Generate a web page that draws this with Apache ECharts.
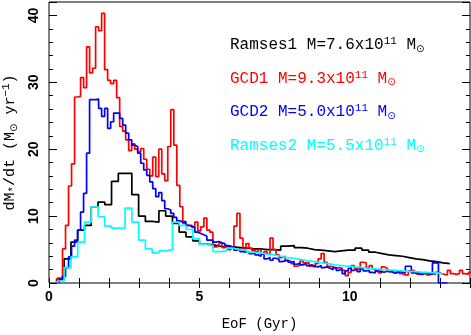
<!DOCTYPE html>
<html><head><meta charset="utf-8">
<script src="https://cdn.jsdelivr.net/npm/echarts@6/dist/echarts.min.js"></script>
<style>html,body{margin:0;padding:0;background:#fff}#c{width:471px;height:335px}</style>
</head><body><div id="c"></div>
<script>
// ---- data (histograms: first bin start, bin width, values) ----
const gcd1Start = 0.25, gcd1Width = 0.1;
const gcd1 = [0.6,0.8,5.1,8.6,14.5,17.8,27.8,27.9,30.7,29.2,35.3,31.4,32.1,38.3,37.7,40.3,31.9,30.3,29.8,30.3,
  27.7,23.4,22.7,21.4,19.8,20.8,20.0,19.6,20.1,18.5,17.0,16.0,18.8,15.9,20.0,16.3,15.3,20.4,25.9,20.6,
  14.6,11.4,8.9,8.6,8.6,8.3,9.1,7.8,8.4,9.7,7.9,7.6,5.4,5.5,6.0,5.3,5.6,5.0,5.3,8.5,
  10.4,6.7,4.9,5.9,5.2,4.8,4.6,5.0,4.4,4.7,4.3,6.7,5.0,4.2,3.8,4.0,3.4,3.2,2.9,2.5,
  2.7,3.3,3.0,3.0,2.5,2.4,2.9,3.6,4.4,3.1,2.5,2.4,2.2,2.3,2.2,1.9,1.1,1.6,2.6,2.2,
  2.0,3.1,3.0,2.3,2.6,2.1,1.8,1.5,2.4,2.2,1.7,1.9,1.5,1.8,1.4,1.2,1.2,1.8,1.9,1.6,
  1.3,1.5,1.6,1.2,1.4,1.3,1.6,1.4,1.3,1.2,1.9,1.4,1.3,1.4,1.9,1.4,1.3,1.6];

const gcd2Start = 0.25, gcd2Width = 0.1;
const gcd2 = [0.2,0.5,1.0,2.3,3.9,5.5,6.4,7.9,10.6,13.4,19.4,27.4,27.4,27.5,26.1,24.9,26.1,23.1,24.1,25.4,
  25.4,24.6,23.6,22.4,21.4,20.6,20.4,19.4,17.9,16.9,16.1,15.1,14.1,12.9,13.5,12.3,11.1,10.9,10.4,9.8,
  9.3,9.1,9.2,8.6,8.5,8.3,7.6,7.4,7.2,7.0,6.4,6.4,6.1,6.2,6.0,5.9,5.6,5.5,5.3,4.9,
  5.1,4.7,4.6,4.7,4.4,4.5,4.2,4.0,4.3,3.6,3.8,3.4,3.7,3.5,3.2,3.3,3.4,3.1,3.2,2.8,
  3.0,2.7,2.9,2.6,2.7,2.5,2.4,2.6,2.3,2.4,2.2,2.0,2.3,1.9,2.1,1.4,1.8,2.2,1.9,2.0,
  1.7,2.1,1.8,1.9,1.6,1.5,1.8,1.7,1.6,1.8,1.7,1.6,1.5,1.7,1.6,1.5,2.5,2.5,1.5,1.4,
  1.6,1.3,1.5,1.4,1.3,3.0,3.0,0,0,0];

const ramses1Start = 0.28, ramses1Width = 0.225;
const ramses1 = [0.7,3.6,6.1,7.9,8.6,11.4,12.1,11.7,15.2,16.4,16.4,13.2,10.0,9.2,9.1,10.8,10.0,8.9,7.6,6.9,
  6.3,5.8,5.7,5.5,5.4,5.4,5.3,5.2,5.1,5.1,5.0,5.0,4.9,5.5,5.6,5.3,5.2,5.0,4.9,4.8,
  4.7,4.8,4.9,4.9,5.2,4.9,4.6,4.4,4.2,4.1,4.0,3.8,3.6,3.5,3.3,3.2,3.0,2.9];

const ramses2Start = 0.28, ramses2Width = 0.225;
const ramses2 = [0.3,2.3,3.9,6.1,9.1,11.4,9.9,8.5,8.2,8.2,11.2,9.1,6.4,5.1,4.5,4.8,5.0,9.1,8.6,8.0,
  6.6,5.8,5.6,4.7,4.8,5.2,5.0,4.9,4.6,4.5,4.3,4.2,4.0,3.8,3.7,3.5,3.3,3.2,3.0,2.9,
  2.7,2.6,2.5,2.4,2.3,2.2,2.1,2.0,1.95,1.9,1.8,1.75,1.7,1.6,1.55,1.5,1.4];

const labels = [
  {pre:'Ramses1 M=7.6x10', exp:'11', color:'#000000'},
  {pre:'GCD1 M=9.3x10', exp:'11', color:'#ff0000'},
  {pre:'GCD2 M=5.0x10', exp:'11', color:'#0000ff'},
  {pre:'Ramses2 M=5.5x10', exp:'11', color:'#00ffff'}
];
const xTickLabels = [0, 5, 10];
const yTickLabels = [0, 10, 20, 30, 40];

// ---- build step points ----
function hist(start, width, vals) {
  const pts = [[start, 0]];
  vals.forEach((v, i) => pts.push([+(start + i * width).toFixed(4), v]));
  pts.push([+(start + vals.length * width).toFixed(4), vals[vals.length - 1]]);
  return pts;
}

const MONO = 'Liberation Mono';
function series(name, pts, color) {
  return {name, type:'line', step:'end', data:pts, symbol:'none', clip:true,
    lineStyle:{color, width:1.7}, itemStyle:{color}, animation:false, silent:true};
}

const titles = labels.map((l, i) => ({
  left: 230, top: 36 + i * 33.5, padding: 0,
  text: l.pre + '{sup|' + l.exp + '} M{sub|⊙}',
  textStyle: {color: l.color, fontFamily: MONO, fontSize: 16, fontWeight: 'normal', lineHeight: 18,
    rich: {
      sup: {color: l.color, fontFamily: MONO, fontSize: 11, verticalAlign: 'top', lineHeight: 18},
      sub: {color: l.color, fontFamily: 'DejaVu Sans', fontSize: 10, verticalAlign: 'bottom', lineHeight: 18}
    }}
}));

const tickStyle = {color:'#000', width:1};
const chart = echarts.init(document.getElementById('c'), null, {renderer:'canvas'});
chart.setOption({
  animation: false,
  backgroundColor: '#fff',
  title: titles,
  grid: {left: 49, right: 1, top: 2, bottom: 52, containLabel: false, outerBoundsMode: 'none',
    show: true, borderColor: '#000', borderWidth: 1, backgroundColor: 'transparent'},
  xAxis: [
    {type:'value', min:0, max:14, interval:1, position:'bottom',
     axisLine:{show:false}, splitLine:{show:false},
     axisTick:{inside:true, length:5, lineStyle:tickStyle},
     axisLabel:{formatter: v => xTickLabels.includes(v) ? String(v) : '', color:'#000',
       fontFamily:'Liberation Sans', fontWeight:'bold', fontSize:14, margin:7},
     name:'EoF (Gyr)', nameLocation:'middle', nameGap:34,
     nameTextStyle:{fontFamily:MONO, fontSize:14, color:'#000'}},
    {type:'value', min:0, max:14, interval:1, position:'top',
     axisLine:{show:false}, splitLine:{show:false},
     axisTick:{inside:true, length:5, lineStyle:tickStyle}, axisLabel:{show:false}}
  ],
  yAxis: [
    {type:'value', min:0, max:42, interval:2, position:'left',
     axisLine:{show:false}, splitLine:{show:false},
     axisTick:{inside:true, length:4, lineStyle:tickStyle}, axisLabel:{show:false}},
    {type:'value', min:0, max:42, interval:10, position:'left',
     axisLine:{show:false}, splitLine:{show:false},
     axisTick:{inside:true, length:8, lineStyle:tickStyle},
     axisLabel:{rotate:90, formatter: v => yTickLabels.includes(v) ? String(v) : '', color:'#000',
       fontFamily:'Liberation Sans', fontWeight:'bold', fontSize:14, margin:8},
     name:'dM{sub|*}/dt (M{sub2|⊙} yr{sup|−1})', nameLocation:'middle', nameGap:30, nameRotate:90,
     nameTextStyle:{fontFamily:MONO, fontSize:15, color:'#000', lineHeight:18,
       rich:{
         sub:{fontFamily:MONO, fontSize:11, color:'#000', verticalAlign:'bottom', lineHeight:18},
         sub2:{fontFamily:'DejaVu Sans', fontSize:10, color:'#000', verticalAlign:'bottom', lineHeight:18},
         sup:{fontFamily:MONO, fontSize:11, color:'#000', verticalAlign:'top', lineHeight:18}
       }}},
    {type:'value', min:0, max:42, interval:2, position:'right',
     axisLine:{show:false}, splitLine:{show:false},
     axisTick:{inside:true, length:4, lineStyle:tickStyle}, axisLabel:{show:false}},
    {type:'value', min:0, max:42, interval:10, position:'right',
     axisLine:{show:false}, splitLine:{show:false},
     axisTick:{inside:true, length:8, lineStyle:tickStyle}, axisLabel:{show:false}}
  ],
  series: [
    series('Ramses1', hist(ramses1Start, ramses1Width, ramses1), '#000000'),
    series('GCD1', hist(gcd1Start, gcd1Width, gcd1), '#ff0000'),
    series('GCD2', hist(gcd2Start, gcd2Width, gcd2), '#0000ff'),
    series('Ramses2', hist(ramses2Start, ramses2Width, ramses2), '#00ffff')
  ]
});
</script></body></html>
